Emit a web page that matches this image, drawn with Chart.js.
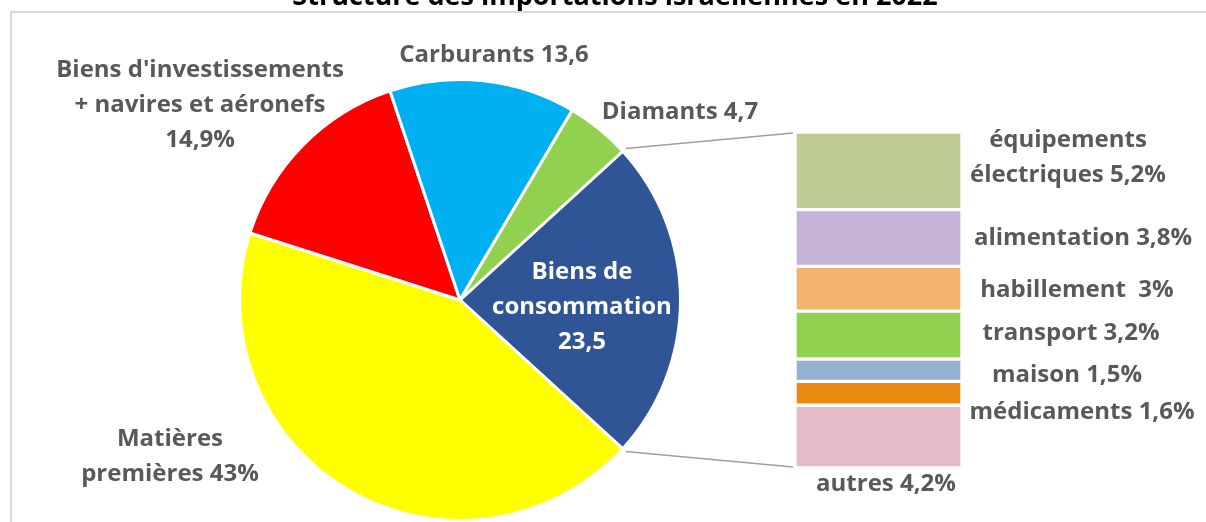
<!DOCTYPE html>
<html>
<head>
<meta charset="utf-8">
<script src="https://cdn.jsdelivr.net/npm/chart.js@4/dist/chart.umd.min.js"></script>
<style>
  body { margin: 0; background: #fff; }
  #wrap { position: relative; width: 1206px; height: 522px; overflow: hidden; }
  #wrap canvas { position: absolute; left: 0; top: 0; }
</style>
</head>
<body>
<div id="wrap">
  <canvas id="pieChart" width="1206" height="522"></canvas>
  <canvas id="barChart" width="1206" height="522"></canvas>
</div>
<script>
// Data
const chartTitle = 'Structure des importations israéliennes en 2022';

const pieNames = ['Biens de consommation', 'Matières premières', "Biens d'investissements + navires et aéronefs", 'Carburants', 'Diamants'];
const pieValues = [23.5, 43, 14.9, 13.6, 4.7];
const pieTexts = [
  ['Biens de', 'consommation', '23,5'],
  ['Matières', 'premières 43%'],
  ["Biens d'investissements", '+ navires et aéronefs', '14,9%'],
  ['Carburants 13,6'],
  ['Diamants 4,7']
];
const pieColors = ['#2F5597', '#FFFF00', '#FF0000', '#00B0F0', '#92D050'];

const barNames = ['équipements électriques', 'alimentation', 'habillement', 'transport', 'maison', 'médicaments', 'autres'];
const barValues = [5.2, 3.8, 3, 3.2, 1.5, 1.6, 4.2];
const barTexts = [
  ['équipements', 'électriques 5,2%'],
  ['alimentation 3,8%'],
  ['habillement  3%'],
  ['transport 3,2%'],
  ['maison 1,5%'],
  ['médicaments 1,6%'],
  ['autres 4,2%']
];
const barColors = ['#BFCB95', '#C4B3D7', '#F4B36C', '#92D050', '#95B0D1', '#EB8A13', '#E4BBC9'];

// label placement (offsets in px)
const pieTextOffsets = [[122, 7], [-290, 157], [-260, -195], [34, -245], [220, -188]];
const barTextOffsets = [[106, -13], [121, 0], [115, 1], [109, -2], [105, 5], [120, 19], [-76, 48]];

const labelFont = 'bold 24px "Open Sans"';
const labelColor = '#595959';
const lineH = 35;

function drawLines(ctx, lines, x, y, color) {
  ctx.save();
  ctx.font = labelFont;
  ctx.fillStyle = color;
  ctx.textAlign = 'center';
  ctx.textBaseline = 'middle';
  const top = y - (lines.length - 1) * lineH / 2;
  lines.forEach((l, i) => ctx.fillText(l, x, top + i * lineH));
  ctx.restore();
}

const pieSum = pieValues.reduce((a, b) => a + b, 0);
const barSum = barValues.reduce((a, b) => a + b, 0);

// border + title + slice labels
const piePlugin = {
  id: 'pieExtras',
  beforeDraw(chart) {
    const ctx = chart.ctx;
    ctx.save();
    ctx.fillStyle = '#fff';
    ctx.fillRect(0, 0, chart.width, chart.height);
    ctx.strokeStyle = '#D9D9D9';
    ctx.lineWidth = 2;
    ctx.beginPath();
    ctx.moveTo(11, chart.height);
    ctx.lineTo(11, 12);
    ctx.lineTo(chart.width, 12);
    ctx.stroke();
    ctx.font = 'bold 27px "Open Sans"';
    ctx.fillStyle = '#000';
    ctx.textAlign = 'center';
    ctx.textBaseline = 'alphabetic';
    ctx.fillText(chartTitle, 615, 5);
    ctx.restore();
  },
  afterDatasetsDraw(chart) {
    const arcs = chart.getDatasetMeta(0).data;
    const ctx = chart.ctx;
    arcs.forEach((arc, i) => {
      const o = pieTextOffsets[i];
      drawLines(ctx, pieTexts[i], arc.x + o[0], arc.y + o[1], i === 0 ? '#fff' : labelColor);
    });
  }
};

const pieChart = new Chart(document.getElementById('pieChart'), {
  type: 'pie',
  data: {
    labels: pieNames,
    datasets: [{
      data: pieValues,
      backgroundColor: pieColors,
      borderColor: '#fff',
      borderWidth: 3
    }]
  },
  options: {
    responsive: false,
    animation: false,
    devicePixelRatio: 1,
    rotation: 90 - pieValues[0] / pieSum * 180,
    layout: { padding: { left: 238, right: 524, top: 78, bottom: 0 } },
    plugins: { legend: { display: false }, tooltip: { enabled: false } }
  },
  plugins: [piePlugin]
});

// connector lines + bar labels
const barPlugin = {
  id: 'barExtras',
  afterDatasetsDraw(chart) {
    const ctx = chart.ctx;
    const arc = pieChart.getDatasetMeta(0).data[0];
    const area = chart.chartArea;
    const r = arc.outerRadius + 4;
    ctx.save();
    ctx.strokeStyle = '#A0A0A0';
    ctx.lineWidth = 1.5;
    ctx.beginPath();
    ctx.moveTo(arc.x + r * Math.cos(arc.startAngle), arc.y + r * Math.sin(arc.startAngle));
    ctx.lineTo(area.left - 2, area.top + 1);
    ctx.moveTo(arc.x + r * Math.cos(arc.endAngle), arc.y + r * Math.sin(arc.endAngle));
    ctx.lineTo(area.left - 2, area.bottom - 1);
    ctx.stroke();
    ctx.restore();

    barTexts.forEach((lines, i) => {
      const bar = chart.getDatasetMeta(i).data[0];
      const o = barTextOffsets[i];
      const cy = (bar.y + bar.base) / 2;
      drawLines(ctx, lines, area.right + o[0], cy + o[1], labelColor);
    });
  }
};

new Chart(document.getElementById('barChart'), {
  type: 'bar',
  data: {
    labels: [''],
    datasets: barValues.map((v, i) => ({
      label: barNames[i],
      data: [v],
      backgroundColor: barColors[i],
      borderColor: '#fff',
      borderWidth: 2,
      borderSkipped: false,
      barPercentage: 1,
      categoryPercentage: 1
    }))
  },
  options: {
    responsive: false,
    animation: false,
    devicePixelRatio: 1,
    layout: { padding: { left: 795, right: 244, top: 132, bottom: 54 } },
    scales: {
      x: { display: false, stacked: true },
      y: { display: false, stacked: true, reverse: true, min: 0, max: barSum }
    },
    plugins: { legend: { display: false }, tooltip: { enabled: false } }
  },
  plugins: [barPlugin]
});
</script>
</body>
</html>
